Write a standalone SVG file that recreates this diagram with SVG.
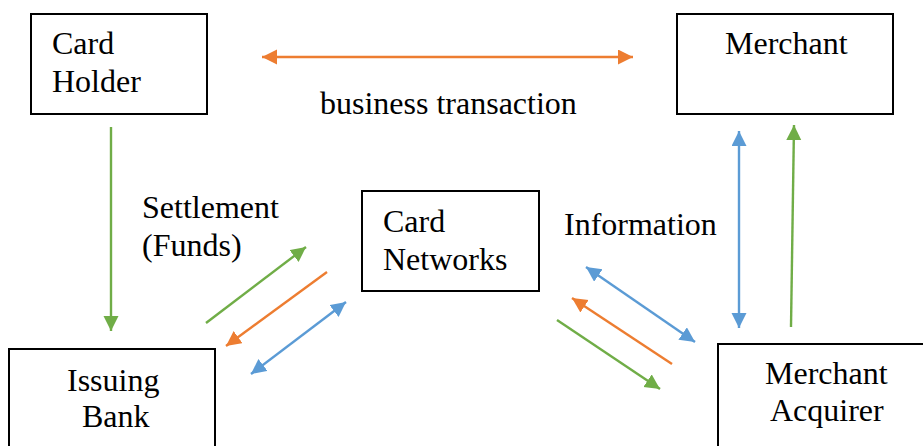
<svg xmlns="http://www.w3.org/2000/svg" width="923" height="446" viewBox="0 0 923 446">
<style>
.box{fill:#fff;stroke:#000;stroke-width:2}
.t{font-family:"Liberation Serif","Times New Roman",serif;font-size:32px;fill:#000}
.c{fill:none;stroke-width:2.4}
.o{stroke:#ED7D31}
.g{stroke:#70AD47}
.b{stroke:#5B9BD5}
</style>
<defs>
<marker id="ao" markerUnits="userSpaceOnUse" markerWidth="16" markerHeight="16" refX="15" refY="7.5" orient="auto-start-reverse"><path d="M0,0 L15,7.5 L0,15 z" fill="#ED7D31"/></marker>
<marker id="ag" markerUnits="userSpaceOnUse" markerWidth="16" markerHeight="16" refX="15" refY="7.5" orient="auto-start-reverse"><path d="M0,0 L15,7.5 L0,15 z" fill="#70AD47"/></marker>
<marker id="ab" markerUnits="userSpaceOnUse" markerWidth="16" markerHeight="16" refX="15" refY="7.5" orient="auto-start-reverse"><path d="M0,0 L15,7.5 L0,15 z" fill="#5B9BD5"/></marker>
</defs>
<rect width="923" height="446" fill="#fff"/>
<g id="card-holder">
<rect class="box" x="31" y="14" width="176" height="100"/>
<text class="t" x="52" y="54">Card</text>
<text class="t" x="52" y="92">Holder</text>
</g>
<g id="merchant">
<rect class="box" x="677" y="14" width="216" height="100"/>
<text class="t" x="725" y="54">Merchant</text>
</g>
<g id="card-networks">
<rect class="box" x="362" y="191" width="177" height="100"/>
<text class="t" x="383" y="232">Card</text>
<text class="t" x="383" y="270">Networks</text>
</g>
<g id="issuing-bank">
<rect class="box" x="9" y="349" width="206" height="110"/>
<text class="t" x="67" y="391">Issuing</text>
<text class="t" x="82" y="427">Bank</text>
</g>
<g id="merchant-acquirer">
<rect class="box" x="718" y="344" width="220" height="115"/>
<text class="t" x="765" y="384">Merchant</text>
<text class="t" x="770" y="421">Acquirer</text>
</g>
<g id="labels">
<text class="t" x="320" y="114">business transaction</text>
<text class="t" x="142" y="218">Settlement</text>
<text class="t" x="142" y="256">(Funds)</text>
<text class="t" x="564" y="235">Information</text>
</g>
<g id="connectors">
<line class="c o" x1="262" y1="57" x2="633" y2="57" marker-start="url(#ao)" marker-end="url(#ao)"/>
<line class="c g" x1="111" y1="127" x2="111" y2="331" marker-end="url(#ag)"/>
<line class="c g" x1="206" y1="323" x2="306" y2="247" marker-end="url(#ag)"/>
<line class="c o" x1="327" y1="272" x2="226" y2="346" marker-end="url(#ao)"/>
<line class="c b" x1="251" y1="374" x2="346" y2="302" marker-start="url(#ab)" marker-end="url(#ab)"/>
<line class="c b" x1="586" y1="267" x2="695" y2="342" marker-start="url(#ab)" marker-end="url(#ab)"/>
<line class="c o" x1="672" y1="364" x2="572" y2="298" marker-end="url(#ao)"/>
<line class="c g" x1="557" y1="320" x2="660" y2="389" marker-end="url(#ag)"/>
<line class="c b" x1="739" y1="131" x2="739" y2="328" marker-start="url(#ab)" marker-end="url(#ab)"/>
<line class="c g" x1="791" y1="327" x2="794" y2="125" marker-end="url(#ag)"/>
</g>
</svg>
